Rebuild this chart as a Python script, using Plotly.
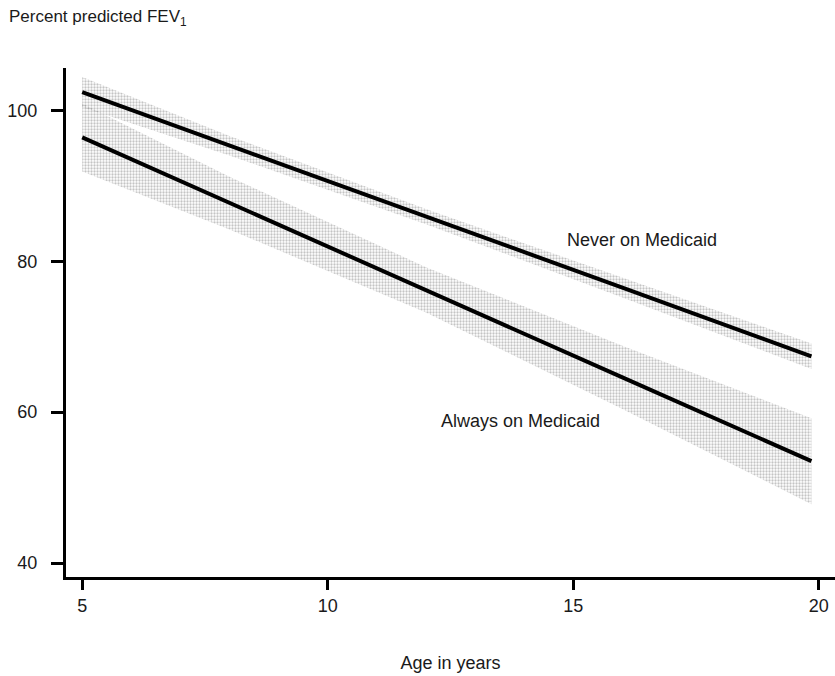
import plotly.graph_objects as go

# Data
ages = [5, 8, 12, 16, 19.85]
never_mean = [102.4, 95.3, 85.9, 76.5, 67.4]
never_upper = [104.4, 96.6, 86.9, 77.8, 69.1]
never_lower = [100.4, 94.0, 84.9, 75.2, 65.7]
always_mean = [96.4, 87.7, 76.2, 64.6, 53.5]
always_upper = [100.9, 91.2, 79.2, 68.8, 59.2]
always_lower = [91.9, 84.2, 73.2, 60.4, 47.8]
x_ticks = [5, 10, 15, 20]
y_ticks = [40, 60, 80, 100]

FONT = "Liberation Sans, Arial, sans-serif"
TXT = "#1a1a1a"

fig = go.Figure()

def band(upper, lower):
    fig.add_trace(go.Scatter(
        x=ages + ages[::-1], y=upper + lower[::-1],
        mode="lines", line=dict(width=0), fill="toself",
        fillcolor="rgba(0,0,0,0)",
        fillpattern=dict(shape=".", size=3, solidity=0.45,
                         fgcolor="#8a8a8a", bgcolor="rgba(0,0,0,0)"),
        hoverinfo="skip", showlegend=False))

band(never_upper, never_lower)
band(always_upper, always_lower)

for ys in (never_mean, always_mean):
    fig.add_trace(go.Scatter(x=ages, y=ys, mode="lines",
                             line=dict(color="black", width=4),
                             showlegend=False))

fig.add_annotation(x=16.40, y=82.8, text="Never on Medicaid", showarrow=False,
                   font=dict(family=FONT, size=18, color=TXT))
fig.add_annotation(x=13.93, y=58.8, text="Always on Medicaid", showarrow=False,
                   font=dict(family=FONT, size=18, color=TXT))

fig.update_layout(
    width=835, height=676,
    margin=dict(l=66, r=0, t=68, b=99),
    paper_bgcolor="white", plot_bgcolor="white",
    font=dict(family=FONT, size=18, color=TXT),
    showlegend=False,
    xaxis=dict(range=[4.67, 20.33], tickvals=x_ticks, showgrid=False,
               zeroline=False, showline=True, linecolor="black", linewidth=3,
               ticks="outside", ticklen=10, tickwidth=3, tickcolor="black",
               tickfont=dict(family=FONT, size=18, color=TXT),
               title=dict(text="Age in years", standoff=42,
                          font=dict(family=FONT, size=18, color=TXT))),
    yaxis=dict(range=[38.15, 105.6], tickvals=y_ticks, showgrid=False,
               zeroline=False, showline=True, linecolor="black", linewidth=3,
               ticks="outside", ticklen=12, tickwidth=3, tickcolor="black",
               ticklabelstandoff=10,
               tickfont=dict(family=FONT, size=18, color=TXT)),
)

fig.add_annotation(x=(7 - 66) / (835 - 66), y=(577 - 18) / (577 - 68),
                   xref="paper", yref="paper",
                   xanchor="left", yanchor="middle", showarrow=False,
                   text="Percent predicted FEV<sub>1</sub>",
                   font=dict(family=FONT, size=17, color=TXT))

fig.write_html("out.html")
